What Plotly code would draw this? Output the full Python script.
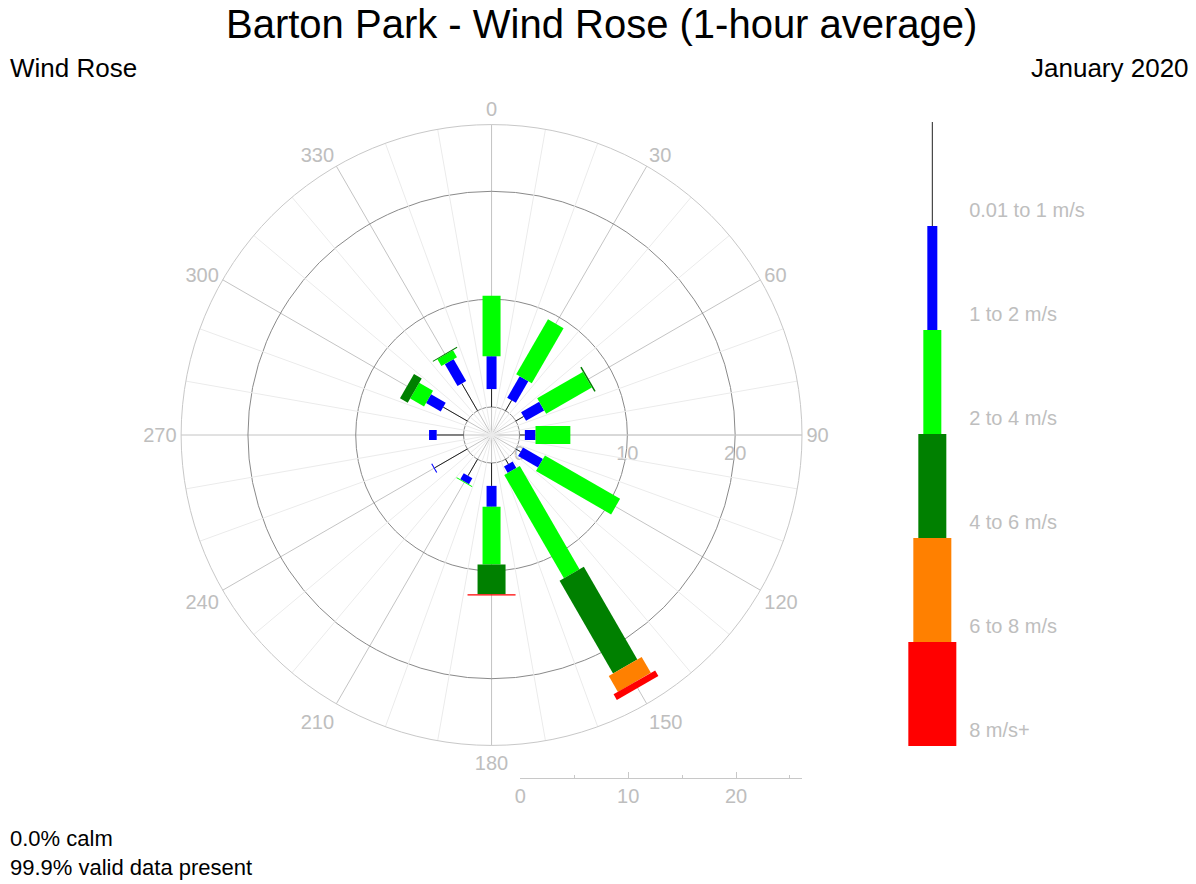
import plotly.graph_objects as go

# ---------------- data ----------------
directions = [0, 30, 60, 90, 120, 150, 180, 210, 240, 270, 300, 330]
bin_labels = ["0.01 to 1 m/s", "1 to 2 m/s", "2 to 4 m/s", "4 to 6 m/s", "6 to 8 m/s", "8 m/s+"]
bin_colors = ["#222222", "#0000ff", "#00ff00", "#008000", "#ff8000", "#ff0000"]
bin_widths = [1, 10, 18, 28, 38, 48]

# percentage frequency per direction for each speed bin
ws_0_1 = [1.66, 1.11, 0.83, 0.49, 0.51, 0.51, 2.12, 1.76, 3.49, 2.49, 2.58, 2.91]
ws_1_2 = [3.05, 2.31, 1.94, 0.99, 2.13, 0.69, 1.94, 0.64, 0.10, 0.71, 1.57, 2.35]
ws_2_4 = [5.62, 5.90, 4.89, 3.23, 8.05, 11.07, 5.35, 0.09, 0.0, 0.0, 1.48, 0.74]
ws_4_6 = [0.0, 0.0, 0.14, 0.0, 0.0, 9.93, 2.77, 0.0, 0.0, 0.0, 0.83, 0.09]
ws_6_8 = [0.0, 0.0, 0.0, 0.0, 0.0, 1.70, 0.0, 0.0, 0.0, 0.0, 0.0, 0.0]
ws_8p = [0.0, 0.0, 0.0, 0.0, 0.0, 0.60, 0.12, 0.0, 0.0, 0.0, 0.0, 0.0]
bins = [ws_0_1, ws_1_2, ws_2_4, ws_4_6, ws_6_8, ws_8p]

angular_ticks = list(range(0, 360, 30))
minor_angles = [a for a in range(0, 360, 10) if a % 30 != 0]
radial_ticks = [0, 10, 20]

title_text = "Barton Park - Wind Rose (1-hour average)"
left_text = "Wind Rose"
right_text = "January 2020"
calm_text = "0.0% calm"
valid_text = "99.9% valid data present"

# ---------------- figure ----------------
W, H = 1196, 884
FONT = "Liberation Sans, Arial, sans-serif"
GREY_TXT = "#bebebe"
RMIN, RMAX = -2.6, 26.2

fig = go.Figure()

# minor angular grid lines
mr, mt = [], []
for a in minor_angles:
    mr += [RMIN, RMAX, None]
    mt += [a, a, None]
fig.add_trace(go.Scatterpolar(r=mr, theta=mt, mode="lines",
                              line=dict(color="#ebebeb", width=1),
                              hoverinfo="skip", showlegend=False))

# stacked wind-rose segments
cum = [0.0] * len(directions)
for k, vals in enumerate(bins):
    rr, tt = [], []
    for i, d in enumerate(directions):
        start = cum[i]
        end = start + vals[i]
        if vals[i] > 0:
            rr += [start, end, None]
            tt += [d, d, None]
        cum[i] = end
    fig.add_trace(go.Scatterpolar(r=rr, theta=tt, mode="lines",
                                  line=dict(color=bin_colors[k], width=bin_widths[k]),
                                  name=bin_labels[k], showlegend=False))

# legend key (right)
for k in range(len(bin_labels)):
    fig.add_trace(go.Scatter(x=[51, 51], y=[k, k + 1], mode="lines",
                             line=dict(color=bin_colors[k], width=bin_widths[k]),
                             xaxis="x2", yaxis="y2", showlegend=False, hoverinfo="skip"))
fig.add_trace(go.Scatter(x=[88] * len(bin_labels),
                         y=[k + 1 - 0.135 for k in range(len(bin_labels))],
                         text=bin_labels, mode="text", textposition="middle right",
                         textfont=dict(family=FONT, size=20, color=GREY_TXT),
                         xaxis="x2", yaxis="y2", showlegend=False, hoverinfo="skip",
                         cliponaxis=False))

# dummy trace for the bottom scale axis
fig.add_trace(go.Scatter(x=[0], y=[0], mode="markers", marker=dict(opacity=0),
                         xaxis="x3", yaxis="y3", showlegend=False, hoverinfo="skip"))

fig.update_layout(
    width=W, height=H,
    margin=dict(l=0, r=0, t=0, b=0),
    paper_bgcolor="white", plot_bgcolor="white",
    font=dict(family=FONT),
    polar=dict(
        domain=dict(x=[176 / W, 800 / W], y=[(H - 747) / H, (H - 123) / H]),
        bgcolor="white",
        angularaxis=dict(rotation=90, direction="clockwise",
                         tickmode="array", tickvals=angular_ticks,
                         ticktext=[str(a) for a in angular_ticks],
                         showgrid=True, gridcolor="#c4c4c4", gridwidth=1,
                         showline=True, linecolor="#c8c8c8", linewidth=1,
                         ticks="", tickfont=dict(family=FONT, size=20, color=GREY_TXT)),
        radialaxis=dict(range=[RMIN, RMAX], tickmode="array", tickvals=radial_ticks,
                        showgrid=True, gridcolor="#8a8a8a", gridwidth=1,
                        showline=True, linecolor="#d0d0d0", angle=0, side="clockwise",
                        ticks="", layer="below traces",
                        tickfont=dict(family=FONT, size=20, color=GREY_TXT)),
    ),
    xaxis2=dict(domain=[880 / W, 1190 / W], range=[0, 310], visible=False, anchor="y2"),
    yaxis2=dict(domain=[(H - 746) / H, (H - 122) / H], range=[6, 0], visible=False, anchor="x2"),
    xaxis3=dict(domain=[517 / W, 800 / W], range=[0, 26.12], anchor="y3",
                showline=True, linecolor="#c8c8c8", linewidth=1,
                showgrid=False, zeroline=False,
                tickmode="array", tickvals=radial_ticks, ticks="inside", ticklen=6,
                tickcolor="#c8c8c8",
                minor=dict(ticks="inside", ticklen=3, tickcolor="#c8c8c8", dtick=5, tick0=0,
                           showgrid=False),
                tickfont=dict(family=FONT, size=20, color=GREY_TXT)),
    yaxis3=dict(domain=[(H - 778) / H, (H - 700) / H], range=[0, 1], visible=False, anchor="x3"),
    annotations=[
        dict(text=title_text, x=0.5, y=1 - 24 / H, xref="paper", yref="paper",
             xanchor="center", yanchor="middle", showarrow=False,
             font=dict(family=FONT, size=40, color="black")),
        dict(text=left_text, x=2 / W, y=1 - 68 / H, xref="paper", yref="paper",
             xanchor="left", yanchor="middle", showarrow=False,
             font=dict(family=FONT, size=26, color="black")),
        dict(text=right_text, x=1191 / W, y=1 - 68 / H, xref="paper", yref="paper",
             xanchor="right", yanchor="middle", showarrow=False,
             font=dict(family=FONT, size=26, color="black")),
        dict(text=calm_text, x=2 / W, y=1 - 838 / H, xref="paper", yref="paper",
             xanchor="left", yanchor="middle", showarrow=False,
             font=dict(family=FONT, size=22, color="black")),
        dict(text=valid_text, x=2 / W, y=1 - 867 / H, xref="paper", yref="paper",
             xanchor="left", yanchor="middle", showarrow=False,
             font=dict(family=FONT, size=22, color="black")),
    ],
)

fig.write_html("out.html", config={"displayModeBar": False},
               post_script="document.body.style.margin='0px';")
